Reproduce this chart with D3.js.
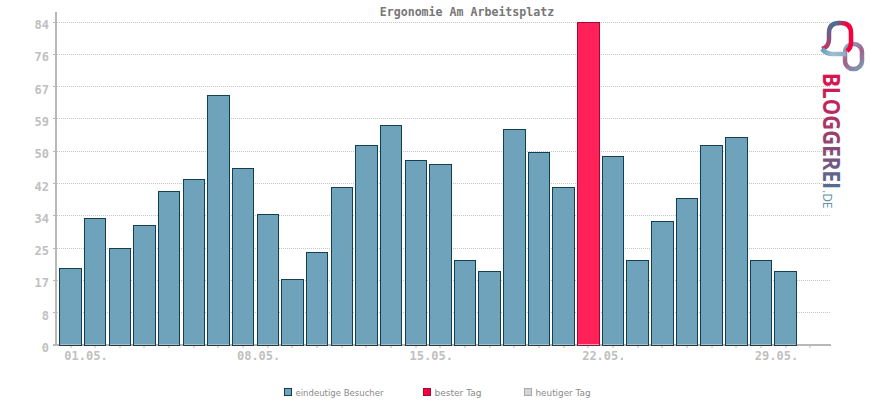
<!DOCTYPE html>
<html>
  <head>
    <meta charset="utf-8">
    <title>Ergonomie Am Arbeitsplatz</title>
    <script src="https://d3js.org/d3.v7.min.js"></script>
    <style>
      body { margin: 0; background: #fff; }
      svg { display: block; font-family: "DejaVu Sans Mono", monospace; }
    </style>
  </head>
  <body>
    <div id="chart"></div>
    <script>
      // values
      const days = d3.range(1, 32);
      const visitors = [20, 33, 25, 31, 40, 43, 65, 46, 34, 17, 24, 41, 52, 57, 48, 47, 22, 19, 56, 50, 41, 84, 49, 22, 32, 38, 52, 54, 22, 19];
      const bestDay = 22;
      const yTicks = [0, 8.4, 16.8, 25.2, 33.6, 42, 50.4, 58.8, 67.2, 75.6, 84];
      const xLabels = { 1: "01.05.", 8: "08.05.", 15: "15.05.", 22: "22.05.", 29: "29.05." };
      const legendItems = ["eindeutige Besucher", "bester Tag", "heutiger Tag"];

      const svg = d3.select("#chart").append("svg")
        .attr("width", 870)
        .attr("height", 400);

      const x = d3.scaleBand()
        .domain(days)
        .range([58.17, 822.63])
        .paddingInner(0.09)
        .paddingOuter(0.045);
      const y = d3.scaleLinear()
        .domain([0, 84])
        .range([345, 22]);

      function center(d) { return x(d) + x.bandwidth() / 2; }

      // grid
      svg.append("g").selectAll("line")
          .data(yTicks.slice(1))
        .enter().append("line")
          .attr("x1", 57)
          .attr("x2", 830)
          .attr("y1", function(d) { return Math.floor(y(d)) + 0.5; })
          .attr("y2", function(d) { return Math.floor(y(d)) + 0.5; })
          .attr("stroke", "#c6c6c6")
          .attr("stroke-dasharray", "1 1");

      // axes under the bars
      const axisColor = "#b8b8b8";
      svg.append("line")
        .attr("x1", 56).attr("x2", 56)
        .attr("y1", 12).attr("y2", 346)
        .attr("stroke", axisColor).attr("stroke-width", 2);
      svg.append("line")
        .attr("x1", 53).attr("x2", 831)
        .attr("y1", 345).attr("y2", 345)
        .attr("stroke", axisColor).attr("stroke-width", 2);

      // bars
      svg.append("g").selectAll("rect")
          .data(visitors)
        .enter().append("rect")
          .attr("x", function(d, i) { return Math.round(x(days[i])) + 0.5; })
          .attr("y", function(d) { return Math.floor(y(d)) + 0.5; })
          .attr("width", function(d, i) {
            return Math.round(x(days[i]) + x.bandwidth()) - Math.round(x(days[i])) - 1;
          })
          .attr("height", function(d) { return Math.round(y(0)) - Math.floor(y(d)); })
          .attr("fill", function(d, i) { return days[i] == bestDay ? "#ff2158" : "#6ea3bb"; })
          .attr("stroke", function(d, i) { return days[i] == bestDay ? "#a30a35" : "#123f52"; });

      // grey base line drawn over the bar bottoms
      svg.append("g").selectAll("line")
          .data(visitors)
        .enter().append("line")
          .attr("x1", function(d, i) { return Math.round(x(days[i])) + 1; })
          .attr("x2", function(d, i) { return Math.round(x(days[i]) + x.bandwidth()) - 1; })
          .attr("y1", 344.5)
          .attr("y2", 344.5)
          .attr("stroke", axisColor);

      // ticks
      svg.append("g").selectAll("line")
          .data(yTicks.slice(1))
        .enter().append("line")
          .attr("x1", 53).attr("x2", 55)
          .attr("y1", function(d) { return Math.floor(y(d)) + 0.5; })
          .attr("y2", function(d) { return Math.floor(y(d)) + 0.5; })
          .attr("stroke", axisColor);

      svg.append("g").selectAll("text")
          .data(yTicks)
        .enter().append("text")
          .attr("x", 49)
          .attr("y", function(d) { return y(d) + 7; })
          .attr("text-anchor", "end")
          .attr("font-size", 12)
          .attr("font-weight", "bold")
          .attr("fill", "#c0c0c0")
          .text(function(d) { return Math.round(d); });

      svg.append("g").selectAll("line")
          .data(days)
        .enter().append("line")
          .attr("x1", function(d) { return Math.round(center(d)); })
          .attr("x2", function(d) { return Math.round(center(d)); })
          .attr("y1", 346).attr("y2", 348)
          .attr("stroke", axisColor);

      svg.append("g").selectAll("text")
          .data(days.filter(function(d) { return xLabels[d]; }))
        .enter().append("text")
          .attr("x", function(d) { return center(d) + 15.5; })
          .attr("y", 360)
          .attr("text-anchor", "middle")
          .attr("font-size", 12)
          .attr("font-weight", "bold")
          .attr("fill", "#c0c0c0")
          .text(function(d) { return xLabels[d]; });

      // title
      svg.append("text")
        .attr("x", 467)
        .attr("y", 16)
        .attr("text-anchor", "middle")
        .attr("font-size", 11.6)
        .attr("font-weight", "bold")
        .attr("fill", "#777")
        .text("Ergonomie Am Arbeitsplatz");

      // legend
      const legendX = [284, 423, 524];
      const legendWidth = [88, 47, 55];
      const legendFill = ["#6ea3bb", "#f5003d", "#d4d4d4"];
      const legendStroke = ["#123f52", "#a30a35", "#a8a8a8"];
      const legend = svg.append("g").selectAll("g")
          .data(legendItems)
        .enter().append("g")
          .attr("transform", function(d, i) { return "translate(" + legendX[i] + ",388)"; });
      legend.append("rect")
        .attr("x", 0.5).attr("y", 0.5)
        .attr("width", 7).attr("height", 7)
        .attr("fill", function(d, i) { return legendFill[i]; })
        .attr("stroke", function(d, i) { return legendStroke[i]; });
      legend.append("text")
        .attr("x", 11.5)
        .attr("y", 7.5)
        .attr("font-size", 9.5)
        .attr("font-family", "DejaVu Sans")
        .attr("textLength", function(d, i) { return legendWidth[i]; })
        .attr("lengthAdjust", "spacingAndGlyphs")
        .attr("fill", "#8a8a8a")
        .text(function(d) { return d; });

      // logo
      const defs = svg.append("defs");
      function gradient(id, x1, y1, x2, y2, stops) {
        const g = defs.append("linearGradient")
          .attr("id", id)
          .attr("gradientUnits", "userSpaceOnUse")
          .attr("x1", x1).attr("y1", y1).attr("x2", x2).attr("y2", y2);
        stops.forEach(function(s) {
          g.append("stop").attr("offset", s[0]).attr("stop-color", s[1]);
        });
      }
      gradient("bellLeft", 828, 22, 826, 50, [[0, "#4a6f92"], [0.5, "#7d5585"], [1, "#c9305f"]]);
      gradient("bellRight", 836, 22, 852, 30, [[0, "#4a6f92"], [0.6, "#f5003d"], [1, "#f5003d"]]);
      gradient("tail", 821, 50, 845, 54, [[0, "#5f9cb5"], [0.5, "#9cc0d0"], [1, "#9aa9bd"]]);
      gradient("ring", 845, 44, 862, 68, [[0, "#7fb0c6"], [0.5, "#a45f88"], [1, "#7a9ab5"]]);
      gradient("brandText", 0, 0, 116, 0, [[0, "#e0104d"], [0.5, "#a03a6c"], [1, "#4f6f92"]]);

      const logo = svg.append("g").attr("fill", "none").attr("stroke-width", 4.5);
      logo.append("rect")
        .attr("x", 845).attr("y", 44)
        .attr("width", 17).attr("height", 25).attr("rx", 8)
        .attr("stroke", "url(#ring)");
      logo.append("path")
        .attr("d", "M822 49 Q829 47 829 39 L829 33 Q829 23 839 23")
        .attr("stroke", "url(#bellLeft)");
      logo.append("path")
        .attr("d", "M838 23 L841 23 Q851 23 851 33 L851 43 Q851 48 847 51")
        .attr("stroke", "url(#bellRight)");
      logo.append("path")
        .attr("d", "M822 49 Q826 54 833 54 L846 54")
        .attr("stroke", "url(#tail)");

      svg.append("text")
        .attr("transform", "translate(823,73) rotate(90)")
        .attr("font-family", "Open Sans")
        .attr("font-weight", "bold")
        .attr("font-size", 23)
        .attr("textLength", 116)
        .attr("lengthAdjust", "spacingAndGlyphs")
        .attr("fill", "url(#brandText)")
        .text("BLOGGEREI");
      svg.append("text")
        .attr("transform", "translate(823,190) rotate(90)")
        .attr("font-family", "Open Sans")
        .attr("font-size", 12)
        .attr("fill", "#5d8fab")
        .text(".DE");
    </script>
  </body>
</html>
